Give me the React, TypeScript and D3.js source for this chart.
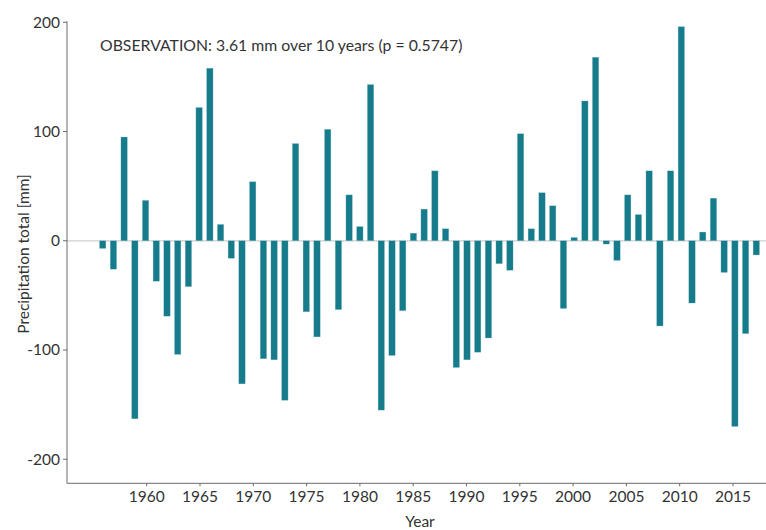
import React from "react";
import * as d3 from "d3";

const years: number[] = d3.range(1956, 2018);
const values: number[] = [
  -7, -26, 95, -163, 37, -37, -69, -104, -42, 122,
  158, 15, -16, -131, 54, -108, -109, -146, 89, -65,
  -88, 102, -63, 42, 13, 143, -155, -105, -64, 7,
  29, 64, 11, -116, -109, -102, -89, -21, -27, 98,
  11, 44, 32, -62, 3, 128, 168, -3, -18, 42,
  24, 64, -78, 64, 196, -57, 8, 39, -29, -170,
  -85, -13,
];
const xTicks: number[] = [1960, 1965, 1970, 1975, 1980, 1985, 1990, 1995, 2000, 2005, 2010, 2015];
const yTicks: number[] = [-200, -100, 0, 100, 200];
const annotation = "OBSERVATION: 3.61 mm over 10 years (p = 0.5747)";

const W = 766;
const H = 530;
const FONT = "Lato, 'Open Sans', sans-serif";

export default function App() {
  const left = 67;
  const right = 766;
  const top = 22.3;
  const bottom = 483.3;
  const y = d3.scaleLinear().domain([-222, 200]).range([bottom, top]);
  const xAxis = d3.scaleLinear().domain([1960, 2015]).range([146.7, 733]);
  const xBar = d3.scaleLinear().domain([1956, 2017]).range([102.7, 756.3]);
  const bw = 6.4;
  const axisColor = "#6b6b6b";
  const textColor = "#333";
  const barColor = "#167c8c";

  return (
    <svg width={W} height={H} style={{ position: "absolute", left: 0, top: 0, background: "#fff" }}>
      {/* zero line */}
      <line x1={left} x2={right} y1={y(0)} y2={y(0)} stroke="#cfcfcf" strokeWidth={1.2} />
      {/* bars */}
      {values.map((v, i) => {
        const x0 = xBar(years[i]) - bw / 2;
        const y0 = Math.min(y(0), y(v));
        const h = Math.abs(y(v) - y(0));
        return (
          <rect key={years[i]} x={x0} y={y0} width={bw} height={h} fill={barColor} stroke="#8fc3cb" strokeWidth={0.3} />
        );
      })}
      {/* y axis */}
      <line x1={left} x2={left} y1={top - 1} y2={bottom} stroke={axisColor} strokeWidth={1} />
      {yTicks.map((t) => (
        <g key={t}>
          <line x1={left - 4} x2={left} y1={y(t)} y2={y(t)} stroke={axisColor} />
          <text x={left - 7} y={y(t)} dy="0.35em" textAnchor="end" fontSize={15.5} fill={textColor} fontFamily={FONT}>
            {t}
          </text>
        </g>
      ))}
      {/* x axis */}
      <line x1={left} x2={right} y1={bottom} y2={bottom} stroke={axisColor} strokeWidth={1} />
      {xTicks.map((t) => (
        <g key={t}>
          <line x1={xAxis(t)} x2={xAxis(t)} y1={bottom} y2={bottom + 3} stroke={axisColor} />
          <text x={xAxis(t)} y={bottom + 19} textAnchor="middle" fontSize={15.5} fill={textColor} fontFamily={FONT}>
            {t}
          </text>
        </g>
      ))}
      {/* axis titles */}
      <text x={420} y={527} textAnchor="middle" fontSize={15.5} fill={textColor} fontFamily={FONT}>
        Year
      </text>
      <text
        transform={`translate(29, 254) rotate(-90)`}
        textAnchor="middle"
        fontSize={15.5}
        fill={textColor}
        fontFamily={FONT}
      >
        Precipitation total [mm]
      </text>
      {/* annotation */}
      <text x={100} y={51} fontSize={15.8} fill={textColor} fontFamily={FONT}>
        {annotation}
      </text>
    </svg>
  );
}
